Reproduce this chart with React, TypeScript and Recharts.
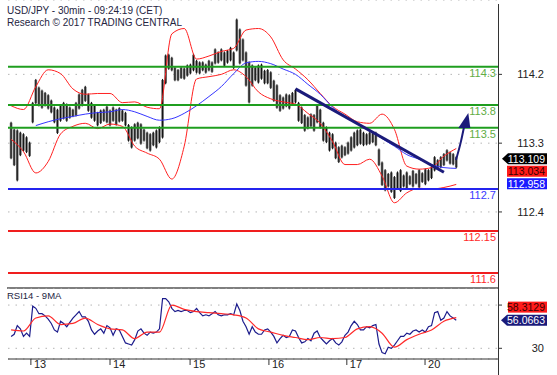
import React from 'react';
import {
  ComposedChart,
  Bar,
  Line,
  XAxis,
  YAxis,
  CartesianGrid,
  ReferenceLine,
  ReferenceDot,
} from 'recharts';

const FONT = '"Liberation Sans", Arial, sans-serif';

// one bar per hour; bar index where each trading day starts
const dayStartBar = [7.4, 33, 58.9, 84.4, 109.6, 134.9];
const dayLabels = ['13', '14', '15', '16', '17', '20'];

const barHigh = [
  113.58, 113.49, 113.48, 113.45, 113.43, 113.39, 113.32, 113.84, 114.14, 114.04,
  114.0, 113.97, 113.94, 113.87, 113.78, 113.75, 113.81, 113.84, 113.82, 113.78,
  113.75, 113.84, 113.95, 114.01, 114.05, 113.95, 113.84, 113.81, 113.71, 113.74,
  113.75, 113.79, 113.74, 113.78, 113.75, 113.77, 113.74, 113.71, 113.55, 113.52,
  113.56, 113.58, 113.56, 113.49, 113.45, 113.43, 113.45, 113.48, 113.52, 114.14,
  114.46, 114.47, 114.43, 114.3, 114.27, 114.3, 114.29, 114.33, 114.34, 114.47,
  114.39, 114.37, 114.37, 114.34, 114.39, 114.37, 114.54, 114.5, 114.54, 114.5,
  114.52, 114.56, 114.5, 114.93, 114.8, 114.67, 114.5, 114.37, 114.33, 114.3,
  114.33, 114.34, 114.26, 114.27, 114.24, 114.13, 114.07, 113.94, 113.91, 113.95,
  113.94, 113.97, 114.01, 113.84, 113.78, 113.68, 113.65, 113.69, 113.68, 113.81,
  113.75, 113.58, 113.52, 113.45, 113.43, 113.32, 113.26, 113.28, 113.26, 113.32,
  113.39, 113.45, 113.48, 113.49, 113.45, 113.43, 113.45, 113.44, 113.45, 113.23,
  113.06, 112.96, 112.91, 112.93, 112.87, 112.93, 112.96, 112.89, 112.93, 112.88,
  112.95, 112.91, 112.96, 112.92, 112.97, 112.96, 113.0, 113.13, 113.09, 113.13,
  113.17, 113.22, 113.19, 113.17, 113.13,
];

const barLow = [
  113.09, 113.0, 112.8, 113.13, 113.19, 113.17, 113.12, 113.56, 113.81, 113.78,
  113.75, 113.78, 113.74, 113.69, 113.56, 113.42, 113.58, 113.61, 113.58, 113.62,
  113.64, 113.65, 113.74, 113.78, 113.84, 113.71, 113.62, 113.58, 113.52, 113.55,
  113.58, 113.56, 113.52, 113.58, 113.53, 113.57, 113.58, 113.52, 113.32, 113.23,
  113.32, 113.35, 113.28, 113.32, 113.22, 113.19, 113.26, 113.23, 113.3, 113.36,
  114.07, 114.26, 114.24, 114.11, 114.11, 114.14, 114.13, 114.17, 114.2, 114.24,
  114.21, 114.2, 114.24, 114.21, 114.24, 114.22, 114.33, 114.34, 114.37, 114.3,
  114.34, 114.37, 114.27, 114.5, 114.33, 114.37, 114.04, 113.82, 114.04, 114.11,
  114.08, 114.13, 114.07, 114.07, 114.01, 113.84, 113.75, 113.71, 113.74, 113.77,
  113.74, 113.79, 113.82, 113.58, 113.55, 113.45, 113.48, 113.51, 113.45, 113.56,
  113.49, 113.32, 113.3, 113.19, 113.22, 113.09, 113.04, 113.1, 113.13, 113.15,
  113.19, 113.23, 113.26, 113.28, 113.26, 113.27, 113.28, 113.3, 113.26, 113.0,
  112.74, 112.67, 112.72, 112.65, 112.57, 112.7, 112.66, 112.72, 112.69, 112.75,
  112.72, 112.76, 112.71, 112.78, 112.75, 112.8, 112.83, 112.93, 112.96, 112.97,
  113.0, 113.06, 113.02, 113.01, 112.97,
];

// bands and moving average read every 4 bars
const overlayBar = [
  1, 5, 9, 13, 17, 21, 25, 29, 33, 37, 41, 45, 49, 53, 57, 61, 65, 69, 73,
  77, 81, 85, 89, 93, 97, 101, 105, 109, 113, 117, 121, 125, 129, 133, 137, 141, 145,
];
const bbUpper = [
  113.79, 113.74, 114.04, 114.26, 114.21, 114.01, 113.94, 113.95, 113.95, 113.83,
  113.84, 113.77, 113.75, 114.73, 114.8, 114.4, 114.44, 114.5, 114.54, 114.78,
  114.8, 114.69, 114.39, 114.27, 114.13, 113.95, 113.78, 113.68, 113.58, 113.56,
  113.68, 113.48, 113.0, 112.96, 112.98, 113.13, 113.23,
];
const bbLower = [
  113.35, 113.19, 112.91, 113.06, 113.42, 113.52, 113.56, 113.49, 113.55, 113.52,
  113.26, 113.17, 113.09, 112.83, 113.26, 114.14, 114.17, 114.2, 114.26, 114.17,
  113.97, 113.88, 113.84, 113.81, 113.69, 113.56, 113.32, 113.02, 113.02, 113.09,
  112.87, 112.52, 112.65, 112.71, 112.7, 112.72, 112.76,
];
const maLine = [
  null, null, 113.53, 113.58, 113.62, 113.65, 113.68, 113.7, 113.71, 113.74,
  113.71, 113.65, 113.6, 113.62, 113.69, 113.79, 113.91, 114.04, 114.21, 114.35,
  114.37, 114.34, 114.27, 114.2, 114.07, 113.94, 113.77, 113.64, 113.56, 113.47,
  113.36, 113.26, 113.15, 113.09, 113.02, 112.98, 112.97,
];

const rsi14 = [
  41, 43, 51, 48, 41, 44, 41, 69, 67, 62,
  62, 60, 57, 53, 47, 45, 55, 53, 50, 54,
  58, 61, 64, 59, 59, 55, 47, 43, 46, 48,
  44, 51, 49, 42, 48, 47, 41, 35, 34, 33,
  38, 46, 48, 44, 42, 45, 44, 45, 48, 76,
  76, 73, 67, 64, 65, 64, 65, 65, 63, 64,
  67, 63, 60, 61, 60, 62, 64, 61, 60, 61,
  61, 62, 61, 71, 65, 55, 50, 43, 50, 45,
  43, 43, 47, 48, 45, 41, 35, 39, 42, 40,
  41, 47, 46, 40, 35, 36, 39, 37, 44, 46,
  40, 37, 34, 37, 39, 35, 33, 36, 42, 45,
  51, 55, 52, 47, 47, 50, 49, 51, 52, 34,
  26, 25, 31, 30, 33, 37, 41, 41, 44, 43,
  46, 47, 45, 47, 45, 50, 51, 63, 64, 56,
  58, 64, 60, 58, 56.07,
];
const rsiMa9 = [
  47, 46, 58, 60, 52, 53, 58, 52, 48, 47, 39, 45, 45, 70, 66, 64, 63, 62, 61,
  58, 48, 45, 42, 40, 38, 40, 39, 40, 48, 50, 44, 31, 38, 43, 47, 55, 58.31,
];

const levelValues = [114.3, 113.8, 113.5, 112.7, 112.15, 111.6];
const levelLabels = ['114.3', '113.8', '113.5', '112.7', '112.15', '111.6'];
const levelKind = ['resistance', 'resistance', 'resistance', 'pivot', 'support', 'support'];

const priceTicks = [111.5, 112.4, 113.3, 114.2];
const rsiTicks = [30, 50, 70];

const lastPrice = '113.109';
const bandValue = '113.034';
const averageValue = '112.958';
const rsiLast = '56.0663';
const rsiMaLast = '58.3129';

// trend line and projected path, in (bar, price)
const trendFrom = { t: 93, p: 114.01 };
const trendTo = { t: 141, p: 112.92 };
const arrowBar = [144.9, 146.5, 147.5];
const arrowPrice = [113.08, 113.32, 113.51];

const LEVEL_STYLE: Record<string, { line: string; text: string }> = {
  resistance: { line: '#1f9e1f', text: '#62ad44' },
  pivot: { line: '#2424ee', text: '#3a3aff' },
  support: { line: '#f01e1e', text: '#ff2a2a' },
};

const mainData = barHigh.map((h, i) => ({ t: i + 1, range: [barLow[i], h] }));
const overlayData = overlayBar.map((t, i) => ({
  t,
  upper: bbUpper[i],
  lower: bbLower[i],
  ma: maLine[i],
  rsiMa: rsiMa9[i],
}));
const rsiData = rsi14.map((v, i) => ({ t: i + 1, rsi: v }));
const arrowData = arrowBar.map((t, i) => ({ t, p: arrowPrice[i] }));

const X_DOMAIN: [number, number] = [0, 158.5];

const Candle = (props: any) => {
  const { x, y, width, height } = props;
  if (height == null || isNaN(y)) return <g />;
  const cx = x + width / 2;
  return (
    <g>
      <rect x={cx - 1.3} y={y + 1} width={2.6} height={Math.max(height - 2, 1)} fill="#6f6f6f" />
      <line x1={cx} x2={cx} y1={y} y2={y + height} stroke="#111" strokeWidth={1} />
    </g>
  );
};

const PriceTick = ({ y, payload }: any) => (
  <text x={544} y={y} dy={4} textAnchor="end" fontSize={11} fill="#222" fontFamily={FONT}>
    {payload.value.toFixed(1)}
  </text>
);

const RsiTick = ({ y, payload }: any) =>
  payload.value === 70 ? (
    <g />
  ) : (
    <text x={544} y={y} dy={4} textAnchor="end" fontSize={11} fill="#222" fontFamily={FONT}>
      {payload.value}
    </text>
  );

const DayTick = ({ x, y, payload }: any) => {
  const i = dayStartBar.indexOf(payload.value);
  return (
    <text x={x + 3} y={y + 3} fontSize={11} fill="#222" fontFamily={FONT}>
      {dayLabels[i]}
    </text>
  );
};

const ArrowHead = ({ cx, cy }: any) => (
  <polygon points={`${cx + 4},${cy - 14} ${cx - 6},${cy + 1} ${cx + 6},${cy + 1}`} fill="#1b1b7a" />
);

const PriceTags = ({ cx, cy }: any) => {
  const rows = [
    { v: lastPrice, bg: '#000', fg: '#fff', arrow: true },
    { v: bandValue, bg: '#ff1a1a', fg: '#3a0000', arrow: false },
    { v: averageValue, bg: '#1a1aff', fg: '#fff', arrow: false },
  ];
  return (
    <g>
      {rows.map((r, i) => {
        const yc = cy + 1 + i * 12.5;
        return (
          <g key={r.v}>
            {r.arrow ? (
              <polygon
                points={`${cx + 4},${yc} ${cx + 10},${yc - 5.5} ${cx + 49},${yc - 5.5} ${cx + 49},${yc + 5.5} ${cx + 10},${yc + 5.5}`}
                fill={r.bg}
              />
            ) : (
              <rect x={cx + 9} y={yc - 5.5} width={40} height={11} fill={r.bg} />
            )}
            <text x={cx + 47} y={yc + 4} textAnchor="end" fontSize={10.5} fill={r.fg} fontFamily={FONT}>
              {r.v}
            </text>
          </g>
        );
      })}
    </g>
  );
};

const RsiTags = ({ cx, cy }: any) => (
  <g>
    <rect x={cx + 10} y={cy - 18.5} width={39} height={11} fill="#ff1a1a" />
    <text x={cx + 47} y={cy - 9} textAnchor="end" fontSize={10.5} fill="#3a0000" fontFamily={FONT}>
      {rsiMaLast}
    </text>
    <polygon
      points={`${cx + 3},${cy} ${cx + 9},${cy - 5.5} ${cx + 49},${cy - 5.5} ${cx + 49},${cy + 5.5} ${cx + 9},${cy + 5.5}`}
      fill="#1a1a7a"
    />
    <text x={cx + 47} y={cy + 4} textAnchor="end" fontSize={10.5} fill="#fff" fontFamily={FONT}>
      {rsiLast}
    </text>
  </g>
);

const textStyle: React.CSSProperties = {
  position: 'absolute',
  fontFamily: FONT,
  color: '#25253f',
  whiteSpace: 'nowrap',
};

export default function App() {
  return (
    <div style={{ position: 'fixed', left: 0, top: 0, width: 557, height: 375, background: '#fff' }}>
      <ComposedChart
        width={557}
        height={288}
        data={mainData}
        margin={{ top: 0, right: 0, left: 8, bottom: 0 }}
      >
        <CartesianGrid vertical={false} stroke="#b5b5b5" strokeDasharray="1.5 6" />
        <XAxis type="number" dataKey="t" domain={X_DOMAIN} allowDataOverflow hide />
        <YAxis
          orientation="right"
          width={59}
          type="number"
          domain={[111.405, 115.173]}
          allowDataOverflow
          ticks={priceTicks}
          tick={PriceTick}
          tickSize={4}
          axisLine={false}
          tickLine={{ stroke: '#333' }}
        />
        <Bar dataKey="range" barSize={3} shape={Candle} isAnimationActive={false} />
        <Line data={overlayData} dataKey="upper" type="monotone" stroke="#ff2020" strokeWidth={1} dot={false} isAnimationActive={false} />
        <Line data={overlayData} dataKey="lower" type="monotone" stroke="#ff2020" strokeWidth={1} dot={false} isAnimationActive={false} />
        <Line data={overlayData} dataKey="ma" type="monotone" stroke="#3535ff" strokeWidth={1} dot={false} connectNulls isAnimationActive={false} />
        {levelValues.map((v, i) => (
          <ReferenceLine
            key={v}
            y={v}
            stroke={LEVEL_STYLE[levelKind[i]].line}
            strokeWidth={2}
            label={{
              value: levelLabels[i],
              position: 'insideTopRight',
              offset: 2,
              fill: LEVEL_STYLE[levelKind[i]].text,
              fontSize: 11,
              fontFamily: FONT,
            }}
          />
        ))}
        <ReferenceLine
          segment={[
            { x: trendFrom.t, y: trendFrom.p },
            { x: trendTo.t, y: trendTo.p },
          ]}
          stroke="#1b1b7a"
          strokeWidth={3}
        />
        <Line data={arrowData} dataKey="p" type="monotone" stroke="#1b1b7a" strokeWidth={2} dot={false} isAnimationActive={false} />
        <ReferenceDot x={arrowBar[2] + 0.1} y={arrowPrice[2]} r={0} shape={ArrowHead} />
        <ReferenceDot x={X_DOMAIN[1]} y={Number(lastPrice)} r={0} shape={PriceTags} />
      </ComposedChart>

      <div style={{ position: 'absolute', left: 7, top: 287, width: 491, height: 2, background: '#7f7f7f' }} />

      <div style={{ position: 'absolute', left: 0, top: 288 }}>
        <ComposedChart
          width={557}
          height={87}
          data={rsiData}
          margin={{ top: 0, right: 0, left: 8, bottom: 0 }}
        >
          <CartesianGrid vertical={false} stroke="#b5b5b5" strokeDasharray="1.5 6" />
          <XAxis
            type="number"
            dataKey="t"
            domain={X_DOMAIN}
            allowDataOverflow
            ticks={dayStartBar}
            tick={DayTick}
            tickSize={6}
            tickMargin={0}
            height={16}
            axisLine={{ stroke: '#333' }}
            tickLine={{ stroke: '#333' }}
          />
          <YAxis
            orientation="right"
            width={59}
            type="number"
            domain={[20.1, 85.8]}
            allowDataOverflow
            ticks={rsiTicks}
            tick={RsiTick}
            tickSize={4}
            axisLine={false}
            tickLine={{ stroke: '#333' }}
          />
          <Line dataKey="rsi" type="linear" stroke="#1c1c8c" strokeWidth={1.2} dot={false} isAnimationActive={false} />
          <Line data={overlayData} dataKey="rsiMa" type="monotone" stroke="#ff2a2a" strokeWidth={1.2} dot={false} isAnimationActive={false} />
          <ReferenceDot x={X_DOMAIN[1]} y={Number(rsiLast)} r={0} shape={RsiTags} />
        </ComposedChart>
      </div>

      <div style={{ position: 'absolute', left: 498, top: 4, width: 1, height: 371, background: '#333' }} />

      <div style={{ ...textStyle, left: 7, top: 5, fontSize: 10, lineHeight: '12px' }}>
        USD/JPY - 30min - 09:24:19 (CET)
        <br />
        Research © 2017 TRADING CENTRAL
      </div>
      <div style={{ ...textStyle, left: 7, top: 290, fontSize: 9.5, lineHeight: '12px' }}>RSI14 - 9MA</div>
    </div>
  );
}
